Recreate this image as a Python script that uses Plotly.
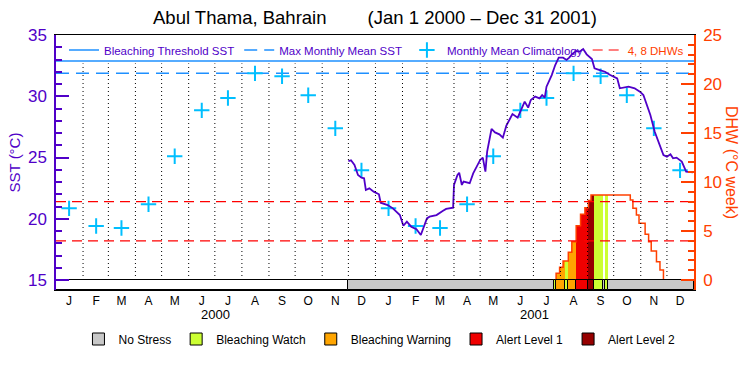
import pandas as pd
import plotly.graph_objects as go

# ---------------- data ----------------
month_letters = ["J", "F", "M", "A", "M", "J", "J", "A", "S", "O", "N", "D"]
years = [2000, 2001]
clim_sst = [20.85, 19.41, 19.24, 21.18, 25.10, 28.85, 29.86, 31.87, 31.63, 30.08, 27.38, 23.95]
mmm_sst = 31.87
threshold_sst = 32.87
dhw_marks = [4, 8]
period_start = "2000-01-01"
period_end = "2002-01-01"

sst_dates = [
    "2000-12-01", "2000-12-04", "2000-12-08", "2000-12-12", "2000-12-16", "2000-12-19",
    "2000-12-21", "2000-12-25", "2000-12-30", "2001-01-05", "2001-01-07", "2001-01-15",
    "2001-01-21", "2001-01-29", "2001-02-02", "2001-02-06", "2001-02-11", "2001-02-17",
    "2001-02-22", "2001-03-01", "2001-03-04", "2001-03-12", "2001-03-19", "2001-03-23",
    "2001-03-31", "2001-04-01", "2001-04-05", "2001-04-07", "2001-04-10", "2001-04-12",
    "2001-04-19", "2001-04-23", "2001-05-01", "2001-05-04", "2001-05-07", "2001-05-09",
    "2001-05-14", "2001-05-18", "2001-05-23", "2001-05-27", "2001-05-31", "2001-06-07",
    "2001-06-13", "2001-06-19", "2001-06-21", "2001-06-25", "2001-06-28", "2001-07-03",
    "2001-07-08", "2001-07-11", "2001-07-14", "2001-07-16", "2001-07-22", "2001-07-26",
    "2001-07-30", "2001-08-04", "2001-08-08", "2001-08-11", "2001-08-14", "2001-08-19",
    "2001-08-23", "2001-08-27", "2001-08-31", "2001-09-06", "2001-09-09", "2001-09-15",
    "2001-09-21", "2001-09-27", "2001-10-05", "2001-10-08", "2001-10-12", "2001-10-18",
    "2001-10-25", "2001-10-31", "2001-11-04", "2001-11-08", "2001-11-12", "2001-11-17",
    "2001-11-23", "2001-11-27", "2001-12-01", "2001-12-05", "2001-12-08", "2001-12-12",
    "2001-12-18", "2001-12-23", "2001-12-31",
]
sst_values = [
    24.71, 24.77, 24.39, 23.57, 23.35, 23.30,
    22.35, 22.48, 22.21, 22.00, 21.31, 21.12,
    20.85, 20.30, 19.43, 19.76, 19.35, 19.14,
    18.67, 20.03, 20.17, 20.30, 20.63, 20.80,
    20.90, 22.76, 23.57, 23.76, 22.76, 23.03,
    22.90, 23.70, 24.80, 24.99, 23.84, 25.48,
    27.33, 27.05, 26.89, 26.62, 27.60, 28.55,
    28.25, 29.15, 29.56, 29.07, 29.70, 29.97,
    29.83, 30.10, 29.88, 30.78, 31.73, 32.55,
    33.15, 33.15, 32.96, 33.15, 33.42, 33.69,
    33.64, 33.86, 33.42, 33.04, 32.28, 32.14,
    32.00, 31.73, 31.46, 30.65, 30.70, 30.78,
    30.65, 30.37, 30.10, 29.29, 28.47, 27.10,
    26.02, 25.20, 25.07, 25.26, 24.93, 24.99,
    24.67, 23.84, 23.79,
]

dhw_dates = [
    "2000-12-01", "2001-07-27", "2001-07-31", "2001-08-04", "2001-08-10", "2001-08-14",
    "2001-08-19", "2001-08-24", "2001-08-29", "2001-09-02", "2001-09-05", "2001-10-20",
    "2001-10-23", "2001-10-27", "2001-10-30", "2001-11-06", "2001-11-10", "2001-11-13",
    "2001-11-19", "2001-11-23", "2001-11-27", "2002-01-01",
]
dhw_values = [
    0.0, 0.68, 1.29, 1.94, 2.82, 3.91,
    5.54, 6.70, 7.38, 8.10, 8.67, 8.16,
    7.31, 6.63, 5.78, 4.66, 3.91, 2.96,
    1.87, 1.02, 0.0, 0.0,
]

status_dates = [
    "2000-01-01", "2000-12-01", "2001-07-25", "2001-07-27", "2001-08-06", "2001-08-10",
    "2001-08-19", "2001-09-02", "2001-09-08", "2001-09-19", "2001-09-21", "2001-09-24",
]
status_names = [
    "No Data", "No Stress", "Bleaching Watch", "Bleaching Warning", "Bleaching Watch", "Bleaching Warning",
    "Alert Level 1", "Alert Level 2", "Bleaching Watch", "No Stress", "Bleaching Watch", "No Stress",
]
alert_levels = ["No Stress", "Bleaching Watch", "Bleaching Warning", "Alert Level 1", "Alert Level 2"]

# ---------------- style ----------------
FONT = "Liberation Sans, Arial, sans-serif"
PURPLE = "#5000C8"
ORANGE_RED = "#FF4000"
RED = "#FF0000"
BLUE = "#1E90FF"
CYAN = "#00BFFF"
ALERT_COLORS = {
    "No Data": "#FFFFFF",
    "No Stress": "#C8C8C8",
    "Bleaching Watch": "#CCFF33",
    "Bleaching Warning": "#FFA500",
    "Alert Level 1": "#F00000",
    "Alert Level 2": "#960000",
}
GRID_TOP_DHW = 22.1

# ---------------- derived ----------------
t_status = pd.to_datetime(status_dates)
t_status_end = list(t_status[1:]) + [pd.Timestamp(period_end)]
t_dhw = pd.to_datetime(dhw_dates)
ms = lambda a, b: (b - a).total_seconds() * 1000.0


def dhw_at(t):
    v = 0.0
    for d, val in zip(t_dhw, dhw_values):
        if d <= t:
            v = val
    return v


def status_at(t):
    s = status_names[0]
    for d, name in zip(t_status, status_names):
        if d <= t:
            s = name
    return s


breaks = sorted(set(list(t_dhw) + list(t_status)))
breaks = [b for b in breaks if b < pd.Timestamp(period_end)]
pieces = []
for i, b in enumerate(breaks):
    e = breaks[i + 1] if i + 1 < len(breaks) else pd.Timestamp(period_end)
    pieces.append((b, e, dhw_at(b), status_at(b)))

clim_dates = [f"{y}-{m:02d}-16" for y in years for m in range(1, 13)]
month_mid = clim_dates
month_bounds = list(pd.date_range("2000-02-01", "2001-12-01", freq="MS"))

fig = go.Figure()

# SST axis traces
fig.add_trace(go.Scatter(x=[period_start, period_end], y=[threshold_sst] * 2, mode="lines",
                         line=dict(color=BLUE, width=1.5), name="Bleaching Threshold SST",
                         legend="legend", hoverinfo="skip"))
fig.add_trace(go.Scatter(x=[period_start, period_end], y=[mmm_sst] * 2, mode="lines",
                         line=dict(color=BLUE, width=1.5, dash="13px,7px"), name="Max Monthly Mean SST",
                         legend="legend", hoverinfo="skip"))
fig.add_trace(go.Scatter(x=clim_dates, y=clim_sst * len(years), mode="markers",
                         marker=dict(symbol="cross-thin", size=11, line=dict(color=CYAN, width=2)),
                         name="Monthly Mean Climatology", legend="legend"))
fig.add_trace(go.Scatter(x=sst_dates, y=sst_values, mode="lines",
                         line=dict(color=PURPLE, width=1.8), showlegend=False))

# DHW fill coloured by alert level
for lvl in alert_levels[1:]:
    sel = [p for p in pieces if p[3] == lvl and p[2] > 0]
    if not sel:
        continue
    fig.add_trace(go.Bar(x=[p[0] for p in sel], y=[p[2] for p in sel], base=0,
                         width=[ms(p[0], p[1]) for p in sel], offset=0,
                         marker=dict(color=ALERT_COLORS[lvl], line=dict(width=0)),
                         yaxis="y2", showlegend=False, hoverinfo="skip"))

# DHW outline
fig.add_trace(go.Scatter(x=dhw_dates, y=dhw_values, mode="lines", line_shape="hv",
                         line=dict(color=ORANGE_RED, width=1.5), yaxis="y2", showlegend=False))

# monthly dotted separators
gx, gy = [], []
for d in month_bounds:
    gx += [d, d, None]
    gy += [0, GRID_TOP_DHW, None]
fig.add_trace(go.Scatter(x=gx, y=gy, mode="lines", line=dict(color="black", width=1, dash="1px,3px"),
                         yaxis="y2", showlegend=False, hoverinfo="skip"))

# 4, 8 DHW lines
hx, hy = [], []
for v in dhw_marks:
    hx += [period_start, period_end, None]
    hy += [v, v, None]
fig.add_trace(go.Scatter(x=hx, y=hy, mode="lines", line=dict(color=RED, width=1.2, dash="10px,6px"),
                         yaxis="y2", name=f"<span style='color:{ORANGE_RED}'>4, 8 DHWs</span>",
                         legend="legend", hoverinfo="skip"))

# alert status strip
for lvl in ["No Data"] + alert_levels:
    idx = [i for i, s in enumerate(status_names) if s == lvl]
    fig.add_trace(go.Bar(x=[t_status[i] for i in idx], y=[1] * len(idx), base=0,
                         width=[ms(t_status[i], t_status_end[i]) for i in idx], offset=0,
                         marker=dict(color=ALERT_COLORS[lvl], line=dict(color="black", width=1)),
                         yaxis="y3", name=lvl, legend="legend2",
                         showlegend=(lvl != "No Data"), hoverinfo="skip"))

fig.update_layout(
    width=750, height=375,
    margin=dict(l=56, r=56, t=35, b=85),
    paper_bgcolor="white", plot_bgcolor="white",
    font=dict(family=FONT, color="black"),
    barmode="overlay", bargap=0,
    title=dict(text="Abul Thama, Bahrain" + "\u00a0" * 8 + "(Jan 1 2000 \u2013 Dec 31 2001)",
               x=0.5, xanchor="center", y=1 - 18 / 375, yanchor="middle",
               font=dict(size=18.5, color="black")),
    xaxis=dict(type="date", range=[period_start, period_end], showline=True, linecolor="black",
               linewidth=1, mirror=True, ticks="", tickmode="array", tickvals=month_mid,
               ticktext=month_letters * len(years), tickfont=dict(size=12, color="black"),
               showgrid=False, zeroline=False, automargin=False),
    yaxis=dict(range=[15 - 10 / 12.25, 35], showline=True, linecolor=PURPLE, linewidth=1.5,
               ticks="inside", ticklen=13, tickwidth=1.5, tickcolor=PURPLE,
               tickmode="linear", tick0=15, dtick=5, tickfont=dict(size=17, color=PURPLE),
               ticklabelstandoff=4, automargin=False,
               minor=dict(tickmode="array", tickvals=[v for v in range(16, 35) if v % 5],
                          ticks="inside", ticklen=6, tickwidth=1.5, tickcolor=PURPLE, showgrid=False),
               title=dict(text="SST (°C)", font=dict(size=15, color=PURPLE), standoff=4),
               showgrid=False, zeroline=False),
    yaxis2=dict(overlaying="y", side="right", range=[-10 / 9.8, 25], showline=True,
                linecolor=ORANGE_RED, linewidth=1.5, ticks="inside", ticklen=13, tickwidth=1.5,
                tickcolor=ORANGE_RED, tickmode="linear", tick0=0, dtick=5,
                tickfont=dict(size=17, color=ORANGE_RED), ticklabelstandoff=4, automargin=False,
                minor=dict(tickmode="array", tickvals=[v for v in range(1, 25) if v % 5],
                           ticks="inside", ticklen=6, tickwidth=1.5, tickcolor=ORANGE_RED, showgrid=False),
                showgrid=False, zeroline=False),
    yaxis3=dict(overlaying="y", range=[0, 25.5], visible=False),
    legend=dict(orientation="h", x=8 / 638, xanchor="left", y=(290 - 50) / 255, yanchor="middle",
                bgcolor="rgba(0,0,0,0)", font=dict(size=11.5, color=PURPLE), itemclick=False),
    legend2=dict(orientation="h", x=0.507, xanchor="center", y=(290 - 339) / 255, yanchor="middle",
                 bgcolor="rgba(0,0,0,0)", font=dict(size=12, color="black"), traceorder="normal"),
    showlegend=True,
)

for y, label in zip(years, ["2000", "2001"]):
    fig.add_annotation(x=f"{y}-07-02", y=(290 - 314) / 255, xref="x", yref="paper", text=label,
                       showarrow=False, font=dict(size=13, color="black"), yanchor="middle")

fig.add_annotation(x=(732 - 56) / 638, y=(290 - 162) / 255, xref="paper", yref="paper",
                   text="DHW (°C week)", textangle=90, showarrow=False,
                   font=dict(size=16, color=ORANGE_RED), xanchor="center", yanchor="middle")

fig.write_html("out.html", config={"displayModeBar": False},
               post_script="document.body.style.margin='0';document.body.style.padding='0';")
